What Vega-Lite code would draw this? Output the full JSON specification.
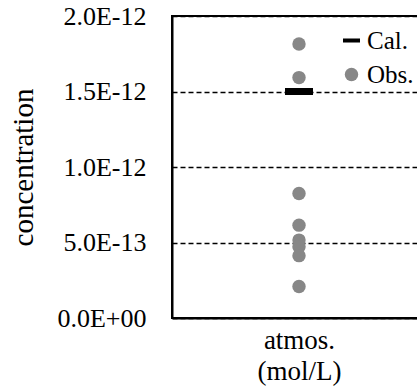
{
  "$schema": "https://vega.github.io/schema/vega-lite/v6.json",
  "autosize": {"type": "none"},
  "padding": {"left": 172, "top": 16, "right": 0, "bottom": 69},
  "width": 254,
  "height": 302,
  "config": {
    "font": "Liberation Serif",
    "view": {"stroke": "black", "strokeWidth": 2},
    "style": {
      "guide-label": {"font": "Liberation Serif", "fill": "black"},
      "guide-title": {"font": "Liberation Serif", "fill": "black"}
    },
    "axis": {"labelFont": "Liberation Serif", "titleFont": "Liberation Serif", "labelColor": "black", "titleColor": "black"},
    "legend": {"labelFont": "Liberation Serif", "labelColor": "black"}
  },
  "data": {
    "values": [
      {"cat": "atmos.", "type": "Obs.", "v": 1.815e-12},
      {"cat": "atmos.", "type": "Obs.", "v": 1.592e-12},
      {"cat": "atmos.", "type": "Obs.", "v": 8.24e-13},
      {"cat": "atmos.", "type": "Obs.", "v": 6.15e-13},
      {"cat": "atmos.", "type": "Obs.", "v": 5.16e-13},
      {"cat": "atmos.", "type": "Obs.", "v": 4.72e-13},
      {"cat": "atmos.", "type": "Obs.", "v": 4.13e-13},
      {"cat": "atmos.", "type": "Obs.", "v": 2.09e-13},
      {"cat": "atmos.", "type": "Cal.", "v": 1.5e-12}
    ]
  },
  "encoding": {
    "x": {
      "field": "cat", "type": "nominal",
      "scale": {"type": "point", "padding": 0.5},
      "axis": {
        "title": null, "labelAngle": 0, "ticks": false, "domain": true, "domainColor": "black", "domainWidth": 2,
        "labelFont": "Liberation Serif", "labelFontSize": 27, "labelPadding": 9, "labelLineHeight": 31,
        "labelExpr": "['atmos.', '(mol/L)']", "labelBaseline": "top"
      }
    },
    "y": {
      "field": "v", "type": "quantitative",
      "scale": {"domain": [0, 2e-12], "nice": false},
      "axis": {
        "title": "concentration", "titleFontSize": 29, "titleFontWeight": "normal", "titlePadding": 18,
        "values": [0, 5e-13, 1e-12, 1.5e-12, 2e-12],
        "labelExpr": "datum.value == 0 ? '0.0E+00' : replace(format(datum.value, '.1e'), 'e', 'E')",
        "labelFont": "Liberation Serif", "labelFontSize": 26, "labelPadding": 26, "ticks": false,
        "domainColor": "black", "domainWidth": 2,
        "grid": true, "gridColor": "black", "gridDash": [5, 3], "gridWidth": 1.5, "gridOpacity": 1
      }
    }
  },
  "layer": [
    {
      "transform": [{"filter": "datum.type == 'Obs.'"}],
      "mark": {"type": "point", "filled": true, "size": 180, "opacity": 1},
      "encoding": {
        "color": {
          "field": "type", "type": "nominal",
          "scale": {"domain": ["Cal.", "Obs."], "range": ["black", "#878787"]},
          "legend": {
            "title": null, "orient": "top-right", "offset": 12,
            "labelFontSize": 25, "labelFont": "Liberation Serif", "labelColor": "black",
            "symbolSize": 180, "symbolStrokeWidth": 0, "rowPadding": 8, "labelOffset": 3
          }
        },
        "shape": {
          "field": "type", "type": "nominal",
          "scale": {"domain": ["Cal.", "Obs."], "range": ["M-1.27,-0.3H1.27V0.3H-1.27Z", "circle"]},
          "legend": {
            "title": null, "orient": "top-right", "offset": 12,
            "labelFontSize": 25, "labelFont": "Liberation Serif", "labelColor": "black",
            "symbolSize": 180, "symbolStrokeWidth": 0, "rowPadding": 8, "labelOffset": 3
          }
        }
      }
    },
    {
      "transform": [{"filter": "datum.type == 'Cal.'"}],
      "mark": {"type": "tick", "thickness": 7, "size": 28, "opacity": 1},
      "encoding": {
        "color": {"field": "type", "type": "nominal"}
      }
    }
  ]
}
